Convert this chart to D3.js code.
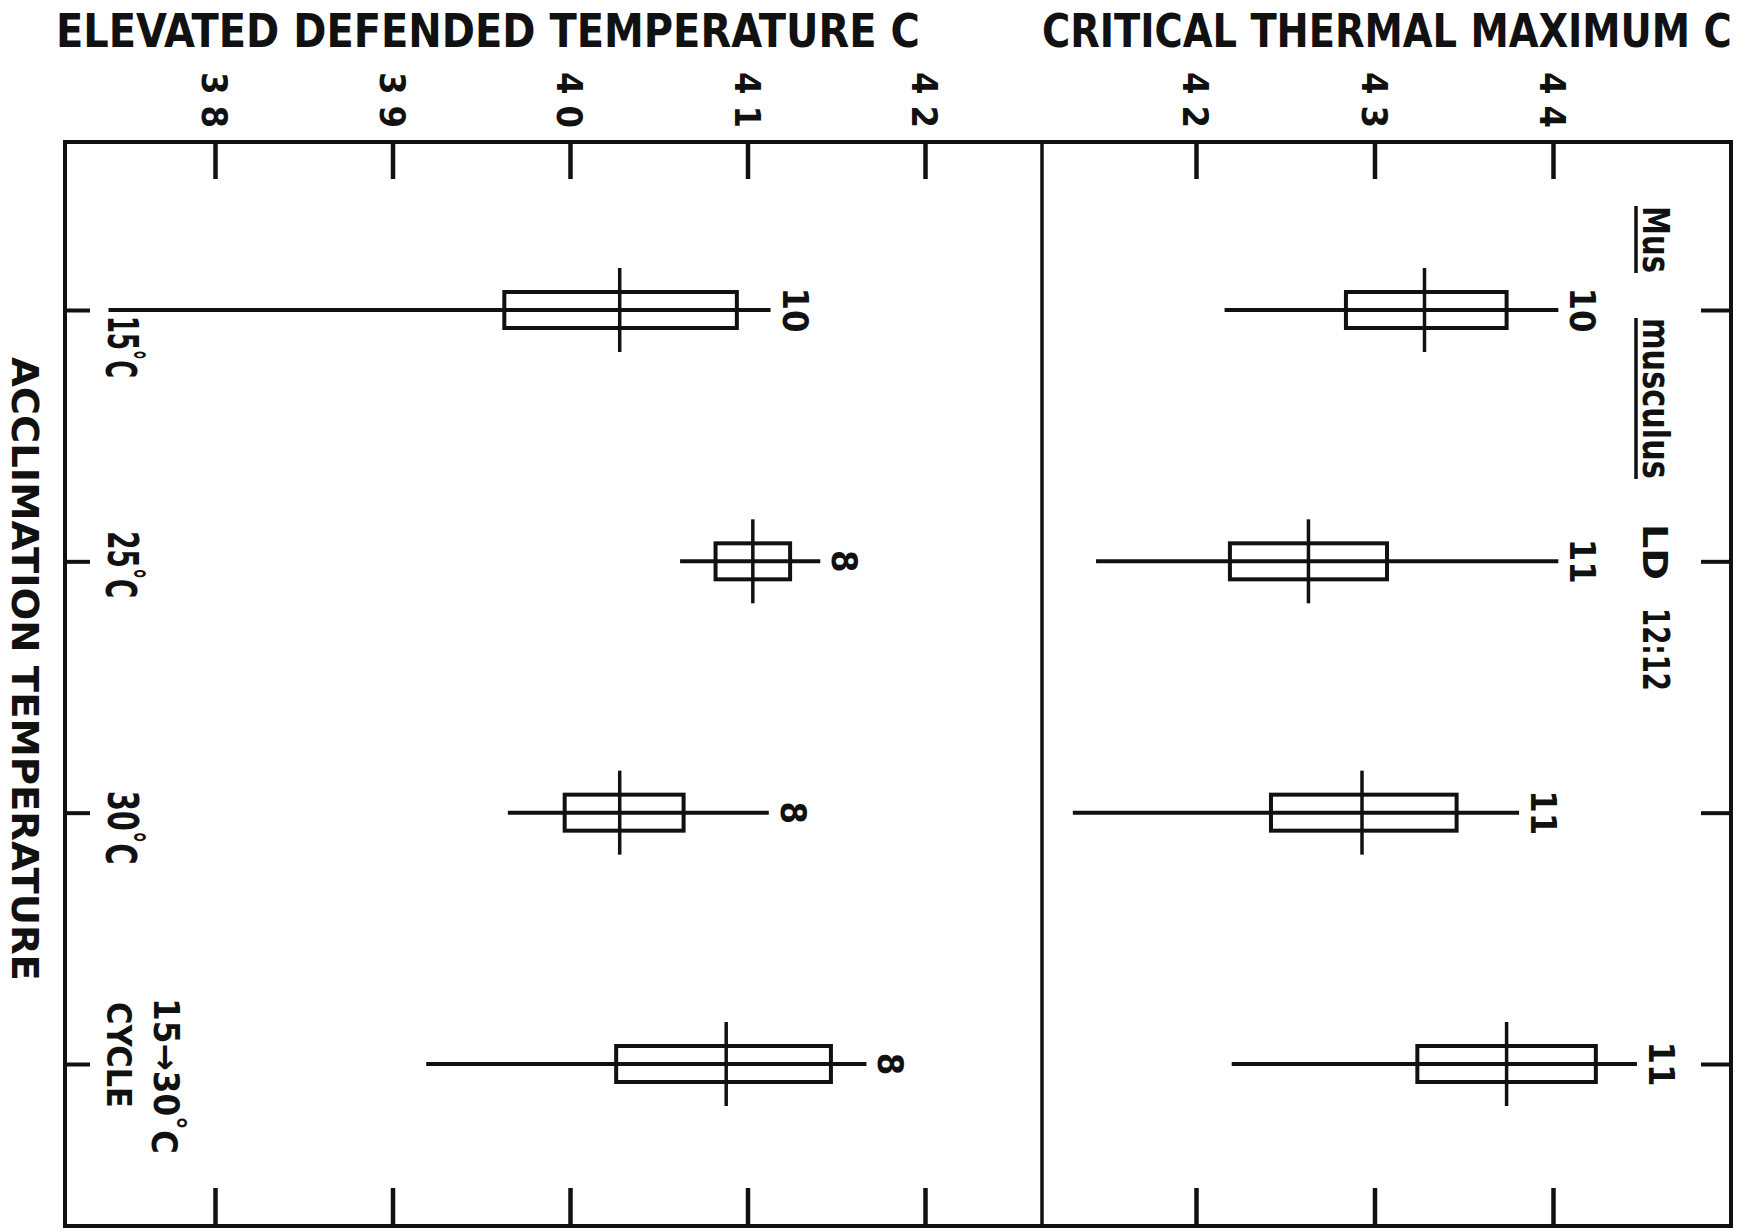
<!DOCTYPE html>
<html><head><meta charset="utf-8">
<script src="https://cdn.jsdelivr.net/npm/d3@7/dist/d3.min.js"></script>
<style>
body{margin:0;background:#fff}
svg{display:block}
text{font-family:"DejaVu Sans Condensed","Liberation Sans Narrow","DejaVu Sans",sans-serif;fill:#111}
</style>
</head><body>
<svg id="chart" width="1748" height="1232"></svg>
<script>
// ---------------- DATA ----------------
const categories = ["15°C", "25°C", "30°C", "15→30°C CYCLE"];
// each line: [main part, superscript degree, unit]
const categoryLines = [
  [["15", "°", "C"]],
  [["25", "°", "C"]],
  [["30", "°", "C"]],
  [["15→30", "°", "C"], ["CYCLE", "", ""]]
];
const edtTicks = [38, 39, 40, 41, 42];
const ctmTicks = [42, 43, 44];
const edtTickLabels = ["38", "39", "40", "41", "42"];
const ctmTickLabels = ["42", "43", "44"];

// Elevated defended temperature (C)
const edtLow    = [37.40, 40.62, 39.65, 39.19];
const edtQ1     = [39.63, 40.82, 39.97, 40.26];
const edtMedian = [40.28, 41.03, 40.28, 40.88];
const edtQ3     = [40.94, 41.24, 40.64, 41.47];
const edtHigh   = [41.13, 41.41, 41.12, 41.67];
const edtN      = ["10", "8", "8", "8"];

// Critical thermal maximum (C)
const ctmLow    = [42.16, 41.44, 41.31, 42.20];
const ctmQ1     = [42.84, 42.19, 42.42, 43.24];
const ctmMedian = [43.28, 42.63, 42.93, 43.74];
const ctmQ3     = [43.74, 43.07, 43.46, 44.24];
const ctmHigh   = [44.03, 44.03, 43.81, 44.47];
const ctmN      = ["10", "11", "11", "11"];

const edtTitle = "ELEVATED DEFENDED TEMPERATURE  C";
const ctmTitle = "CRITICAL THERMAL MAXIMUM C";
const yTitle = "ACCLIMATION  TEMPERATURE";
const speciesWords = ["Mus", "musculus", "LD", "12:12"];
const speciesUnderlined = [true, true, false, false];

// ---------------- LAYOUT ----------------
const L = 65, T = 142, R = 1731, B = 1226, D = 1042;
const svg = d3.select("#chart");

const y = d3.scalePoint().domain(categories).range([310, 1064]);
const xL = d3.scaleLinear().domain([38, 42]).range([215, 925]);
const xR = d3.scaleLinear().domain([42, 44]).range([1196, 1553]);

// Place a text at (x,y), optionally rotated, squeezed along its reading direction to a target length
function fitText(sel, x, yy, rot, target) {
  const w = sel.node().getComputedTextLength();
  const sx = target && w > 0 ? target / w : 1;
  sel.attr("transform", `translate(${x},${yy})${rot ? ` rotate(${rot})` : ""} scale(${sx},1)`);
  return sel;
}

// Frame
svg.append("rect").attr("x", L).attr("y", T).attr("width", R - L).attr("height", B - T)
  .attr("fill", "none").attr("stroke", "#111").attr("stroke-width", 4);
svg.append("line").attr("x1", D).attr("x2", D).attr("y1", T).attr("y2", B)
  .attr("stroke", "#111").attr("stroke-width", 3.5);

function cleanAxis(g, sw) {
  g.select(".domain").remove();
  g.selectAll(".tick line").attr("stroke", "#111").attr("stroke-width", sw);
  g.selectAll(".tick text").remove();
}

// Value axes: top (pointing down) and bottom (pointing up)
[[xL, edtTicks], [xR, ctmTicks]].forEach(([sc, tv]) => {
  svg.append("g").attr("transform", `translate(0,${T})`)
    .call(d3.axisTop(sc).tickValues(tv).tickSize(-37).tickFormat(""))
    .call(g => cleanAxis(g, 4.5));
  svg.append("g").attr("transform", `translate(0,${B})`)
    .call(d3.axisBottom(sc).tickValues(tv).tickSize(-38).tickFormat(""))
    .call(g => cleanAxis(g, 4.5));
});

// Category ticks on left and right frame edges (pointing inward)
svg.append("g").attr("transform", `translate(${L},0)`)
  .call(d3.axisRight(y).tickSize(25).tickFormat(""))
  .call(g => cleanAxis(g, 4));
svg.append("g").attr("transform", `translate(${R},0)`)
  .call(d3.axisLeft(y).tickSize(30).tickFormat(""))
  .call(g => cleanAxis(g, 4));

// Tick labels (rotated)
function tickLabels(sc, vals, labels) {
  svg.append("g").selectAll("text").data(vals).join("text")
    .attr("transform", d => `translate(${sc(d)},100) rotate(90)`)
    .attr("text-anchor", "middle").attr("dy", "0.36em")
    .attr("font-size", 36).attr("font-weight", "bold")
    .attr("textLength", 56).attr("lengthAdjust", "spacing")
    .text((d, i) => labels[i]);
}
tickLabels(xL, edtTicks, edtTickLabels);
tickLabels(xR, ctmTicks, ctmTickLabels);

// Titles
fitText(svg.append("text").attr("font-size", 46).attr("font-weight", "bold").text(edtTitle), 56, 47, 0, 864);
fitText(svg.append("text").attr("font-size", 46).attr("font-weight", "bold").text(ctmTitle), 1042, 47, 0, 690);
fitText(svg.append("text").attr("font-size", 37).attr("font-weight", "bold").text(yTitle), 12, 357, 90, 624);

// Category labels (rotated, inside left of plot)
const catLayout = [
  {dy: [6], len: [62], bx: [108], fs: [42]},
  {dy: [-30], len: [67], bx: [108], fs: [42]},
  {dy: [-22], len: [74], bx: [108], fs: [42]},
  {dy: [-66, -62], len: [156, 106], bx: [154, 107], fs: [35, 33]}
];
categories.forEach((c, i) => {
  categoryLines[i].forEach((parts, j) => {
    const lay = catLayout[i];
    const t = svg.append("text").attr("font-size", lay.fs[j]).attr("font-weight", "bold");
    t.append("tspan").text(parts[0]);
    if (parts[1]) {
      t.append("tspan").attr("dy", "-0.32em").attr("font-size", lay.fs[j] * 0.85).text(parts[1]);
      t.append("tspan").attr("dy", "0.32em").text(parts[2]);
    }
    fitText(t, lay.bx[j], y(c) + lay.dy[j], 90, lay.len[j]);
  });
});

// Box plots
function boxes(sc, lo, q1, med, q3, hi, n) {
  const g = svg.append("g");
  const rows = categories.map((c, i) => ({c, lo: lo[i], q1: q1[i], med: med[i], q3: q3[i], hi: hi[i], n: n[i]}));
  g.selectAll(".wh").data(rows).join("line")
    .attr("x1", d => sc(d.lo)).attr("x2", d => sc(d.hi))
    .attr("y1", d => y(d.c)).attr("y2", d => y(d.c))
    .attr("stroke", "#111").attr("stroke-width", 4);
  g.selectAll(".bx").data(rows).join("rect")
    .attr("x", d => sc(d.q1)).attr("width", d => sc(d.q3) - sc(d.q1))
    .attr("y", d => y(d.c) - 18).attr("height", 36)
    .attr("fill", "none").attr("stroke", "#111").attr("stroke-width", 4);
  g.selectAll(".md").data(rows).join("line")
    .attr("x1", d => sc(d.med)).attr("x2", d => sc(d.med))
    .attr("y1", d => y(d.c) - 42).attr("y2", d => y(d.c) + 42)
    .attr("stroke", "#111").attr("stroke-width", 3.5);
  g.selectAll(".n").data(rows).join("text")
    .attr("transform", d => `translate(${sc(d.hi) + 12},${y(d.c)}) rotate(90)`)
    .attr("text-anchor", "middle").attr("font-size", 36).attr("font-weight", "bold")
    .text(d => d.n);
}
boxes(xL, edtLow, edtQ1, edtMedian, edtQ3, edtHigh, edtN);
boxes(xR, ctmLow, ctmQ1, ctmMedian, ctmQ3, ctmHigh, ctmN);

// Species label (rotated, underlined genus/species)
const spStarts = [206, 318, 524, 608];
const spLens = [67, 161, 56, 83];
const spSizes = [37, 37, 34, 37];
speciesWords.forEach((w, i) => {
  fitText(svg.append("text").attr("font-size", spSizes[i]).attr("font-weight", "bold").text(w),
    1643, spStarts[i], 90, spLens[i]);
  if (speciesUnderlined[i]) {
    svg.append("line").attr("x1", 1636).attr("x2", 1636)
      .attr("y1", spStarts[i]).attr("y2", spStarts[i] + spLens[i])
      .attr("stroke", "#111").attr("stroke-width", 3.5);
  }
});
</script>
</body></html>
